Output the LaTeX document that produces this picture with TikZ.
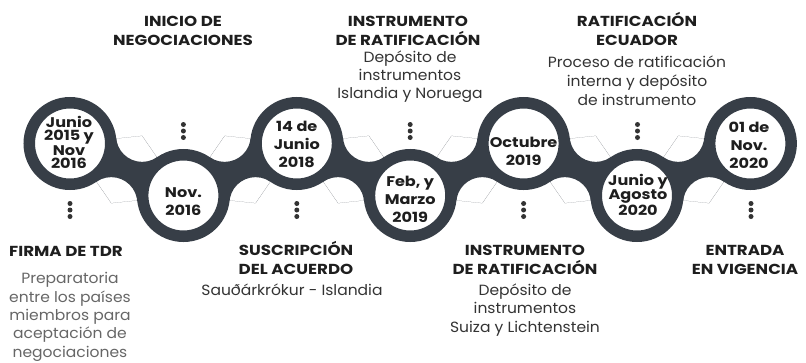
\documentclass[tikz,border=0pt]{standalone}
\usepackage{fontspec}
\setmainfont{Poppins}[FakeStretch=1.05, BoldFeatures={FakeStretch=1.15}]
\usetikzlibrary{calc}
\definecolor{band}{HTML}{373E47}
\definecolor{headc}{HTML}{1E1E1E}
\definecolor{descc}{HTML}{333333}
\definecolor{lightc}{HTML}{666666}
\tikzset{
  ring/.style={circle, draw=band, fill=white, line width=11.5pt, minimum size=81.5pt, inner sep=0pt},
  datetxt/.style={anchor=base, align=center, inner sep=0pt, font=\bfseries\fontsize{14}{18}\selectfont, text=headc},
  tightdate/.style={datetxt, font=\bfseries\fontsize{14}{#1}\selectfont},
  headtxt/.style={anchor=base, align=center, inner sep=0pt, font=\bfseries\fontsize{14.5}{18.3}\selectfont, text=headc},
  desctxt/.style={anchor=base, align=center, inner sep=0pt, font=\fontsize{14.8}{#1}\selectfont, text=descc},
  desctxt/.default=18.3,
  dotmark/.style={circle, fill=descc, inner sep=0pt, minimum size=5pt},
}
\newcommand{\vdotsat}[3]{%
  \node[dotmark] (#3a) at (#1,#2-6.5) {};
  \node[dotmark] (#3b) at (#1,#2) {};
  \node[dotmark] (#3c) at (#1,#2+6.5) {};
}
\begin{document}
\begin{tikzpicture}[x=1pt,y=-1pt]
\path[use as bounding box] (0,0) rectangle (806,362);
% circle centres
\coordinate (p1) at (70,143.5);
\coordinate (p2) at (183.4,195.5);
\coordinate (p3) at (296.8,143.5);
\coordinate (p4) at (410.2,195.5);
\coordinate (p5) at (523.6,143.5);
\coordinate (p6) at (637,195.5);
\coordinate (p7) at (750.4,143.5);
% filleted links
\foreach \i/\j in {1/2,2/3,3/4,4/5,5/6,6/7}{
  \coordinate (m\i\j) at ($(p\i)!0.5!(p\j)$);
  \coordinate (a\i\j) at ($(m\i\j)!37.06pt!90:(p\j)$);
  \coordinate (b\i\j) at ($(m\i\j)!37.06pt!-90:(p\j)$);
  \begin{scope}
    \clip (p\i) -- (a\i\j) -- (p\j) -- (b\i\j) -- cycle;
    \fill[band, even odd rule] (p\i) -- (a\i\j) -- (p\j) -- (b\i\j) -- cycle
      (a\i\j) circle[radius=26.06pt] (b\i\j) circle[radius=26.06pt];
  \end{scope}
}
% rings
\foreach \k in {1,...,7}{ \node[ring] (c\k) at (p\k) {}; }
% dates
\node[tightdate=13] (t1) at (69,168) {Junio\\2015 y\\Nov\\2016};
\node[datetxt] (t2) at (183.4,215) {Nov.\\2016};
\node[datetxt] (t3) at (296.8,167) {14 de\\Junio\\2018};
\node[datetxt] (t4) at (410.2,222) {Feb, y\\Marzo\\2019};
\node[datetxt] (t5) at (523.6,165) {Octubre\\2019};
\node[tightdate=12.5] (t6) at (638,215) {Junio y\\Agosto\\2020};
\node[datetxt] (t7) at (749,168) {01 de\\Nov.\\2020};
% dots
\vdotsat{70}{210}{v1}
\vdotsat{183.4}{131}{v2}
\vdotsat{296.8}{210}{v3}
\vdotsat{410.2}{131}{v4}
\vdotsat{523.6}{210}{v5}
\vdotsat{637.5}{131}{v6}
\vdotsat{751}{210}{v7}
% top labels
\node[headtxt] (h2) at (183,45) {INICIO DE\\NEGOCIACIONES};
\node[headtxt] (h4) at (408,45) {INSTRUMENTO\\DE RATIFICACIÓN};
\node[desctxt=18] (d4) at (410,98) {Depósito de\\instrumentos\\Islandia y Noruega};
\node[headtxt] (h6) at (637,45) {RATIFICACIÓN\\ECUADOR};
\node[desctxt=19] (d6) at (637,105) {Proceso de ratificación\\interna y depósito\\de instrumento};
% bottom labels
\node[headtxt] (h1) at (66,256) {FIRMA DE TDR};
\node[desctxt, text=lightc] (d1) at (70,357) {Preparatoria\\entre los países\\miembros para\\aceptación de\\negociaciones};
\node[headtxt] (h3) at (296,274) {SUSCRIPCIÓN\\DEL ACUERDO};
\node[desctxt] (d3) at (292,295) {Sauðárkrókur - Islandia};
\node[headtxt] (h5) at (525,274) {INSTRUMENTO\\DE RATIFICACIÓN};
\node[desctxt=18.5] (d5) at (525,332) {Depósito de\\instrumentos\\Suiza y Lichtenstein};
\node[headtxt] (h7) at (745,274) {ENTRADA\\EN VIGENCIA};
\end{tikzpicture}
\end{document}
